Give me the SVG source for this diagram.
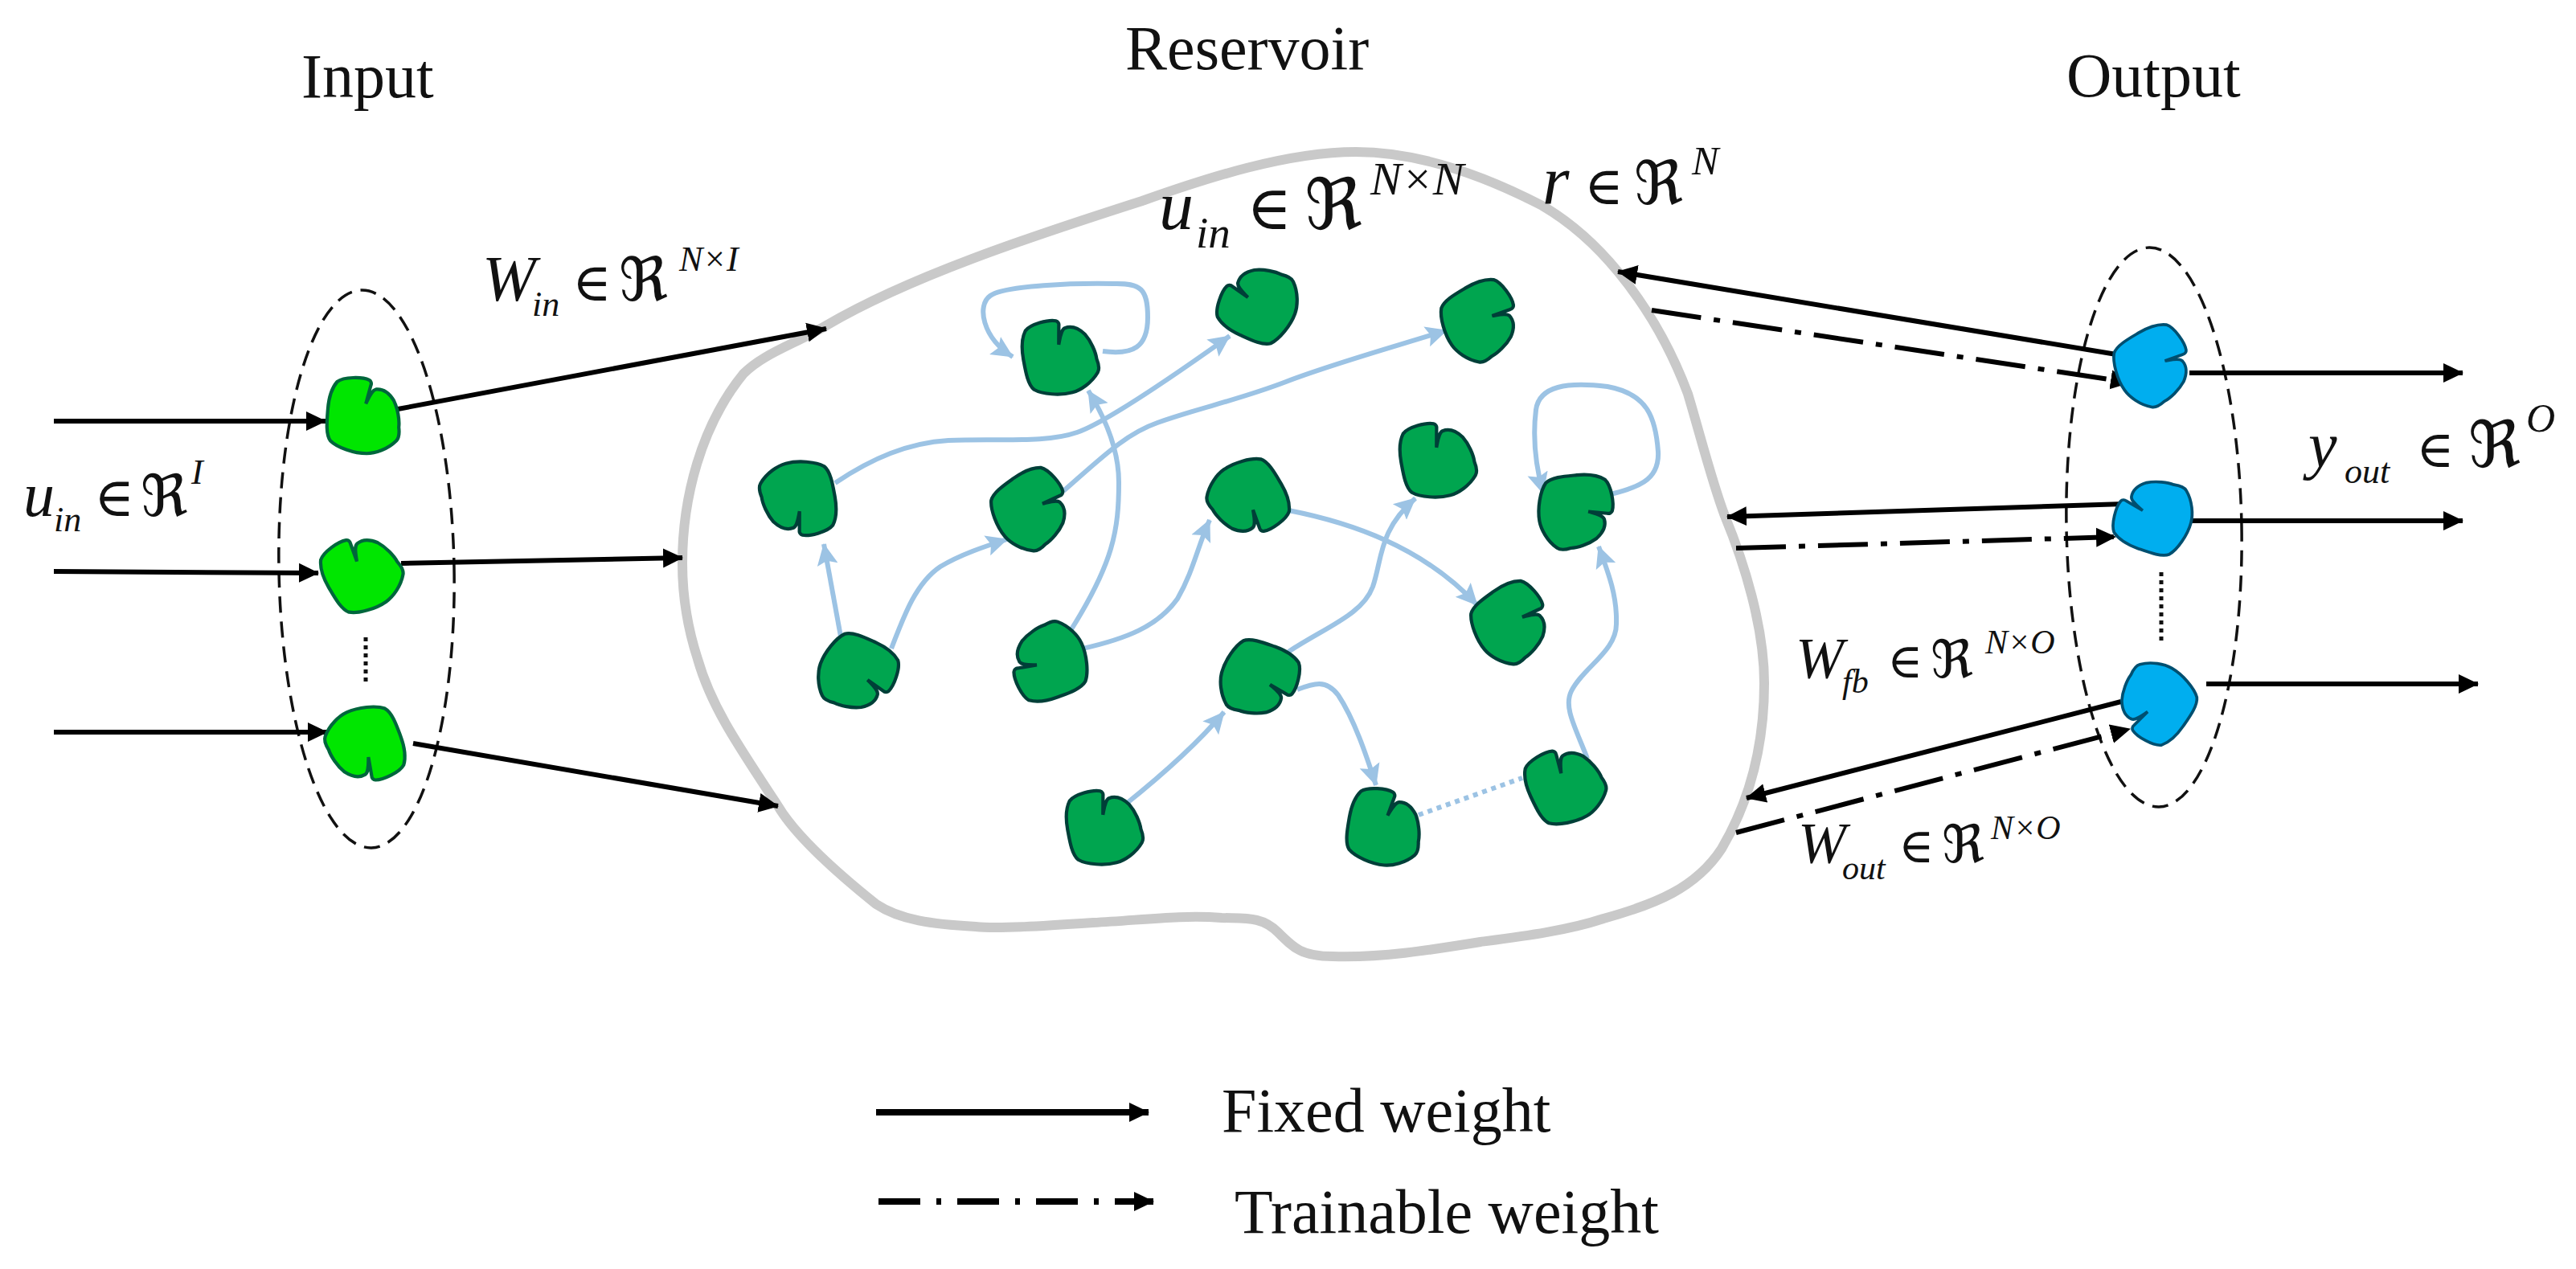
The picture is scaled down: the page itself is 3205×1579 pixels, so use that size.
<svg xmlns="http://www.w3.org/2000/svg" width="3205" height="1579" viewBox="0 0 3205 1579">
<style>
text{font-family:"Liberation Serif","DejaVu Serif",serif;fill:#111}
.t{font-size:78px}
.i{font-style:italic}
.m{font-family:"DejaVu Serif","DejaVu Sans",serif}
.fx{fill:none;stroke:#000;stroke-width:6;marker-end:url(#ah)}
.tr{fill:none;stroke:#000;stroke-width:6;stroke-dasharray:62 16 8 16;marker-end:url(#ah)}
.lg{stroke-width:8;stroke-dasharray:52 20 6 20}
.lf{stroke-width:8}
.bl{fill:none;stroke:#9cc3e4;stroke-width:6;marker-end:url(#ab)}
.ell{fill:none;stroke:#111;stroke-width:3.5;stroke-dasharray:20 11}
.dots{fill:none;stroke:#111;stroke-width:5;stroke-dasharray:5 5}
.nI{fill:#00e600;stroke:#00663c;stroke-width:4}
.nR{fill:#00a54f;stroke:#003f38;stroke-width:4}
.nO{fill:#00aeef;stroke:#004f70;stroke-width:3.5}
</style>
<defs>
<marker id="ah" markerUnits="userSpaceOnUse" markerWidth="26" markerHeight="26" refX="24" refY="13" orient="auto"><path d="M0,1 L25,13 L0,25 Z" fill="#000"/></marker>
<marker id="ab" markerUnits="userSpaceOnUse" markerWidth="28" markerHeight="28" refX="26" refY="14" orient="auto"><path d="M0,1 L27,14 L0,27 L5,14 Z" fill="#9cc3e4"/></marker>
<path id="blob" transform="scale(1.05)" d="M10,-36 L4,-14 C8,-22 11,-30 16,-31 C25,-32 32,-26 37,-18 C42,-8 44,6 43,14 C44,22 43,27 40,30 C30,40 15,45 5,45 C-10,45 -30,38 -38,30 C-44,22 -42,5 -41,-8 C-40,-20 -37,-32 -30,-40 C-22,-46 0,-46 8,-42 C10,-41 11,-38 10,-36 Z"/>
</defs>
<rect width="3205" height="1579" fill="#fff"/>
<g id="reservoir-outline"><path d="M1687,189 C1760,189 1840,215 1919,256 C1960,280 1990,310 2013,338 C2060,395 2085,450 2100,490 C2115,540 2130,600 2146,642 C2170,700 2195,780 2195,850 C2195,930 2175,1000 2142,1056 C2110,1105 2060,1125 1995,1143 C1950,1158 1895,1165 1842,1172 C1780,1182 1720,1192 1658,1190 C1620,1190 1610,1180 1590,1160 C1570,1140 1550,1143 1520,1142 C1470,1138 1420,1145 1360,1148 C1300,1152 1240,1156 1214,1153 C1160,1150 1120,1145 1090,1125 C1040,1085 990,1040 968,1003 C920,930 885,880 868,820 C855,780 849,740 849,701 C849,620 872,530 925,465 C950,440 985,430 1028,405 C1130,345 1280,295 1421,250 C1500,222 1600,189 1687,189 Z" fill="none" stroke="#c9c9c9" stroke-width="12"/></g>
<g id="layer-ellipses">
<ellipse class="ell" cx="456" cy="708" rx="109" ry="347" transform="rotate(-1 456 708)"/>
<ellipse class="ell" cx="2680" cy="656" rx="109" ry="348" transform="rotate(-1 2680 656)"/>
<path class="dots" d="M455,793 V852"/>
<path class="dots" d="M2689,712 V798"/>
</g>
<g id="connectors">
<path class="fx" d="M67,524 H405"/>
<path class="fx" d="M67,711 L396,713"/>
<path class="fx" d="M67,911 H407"/>
<path class="fx" d="M495,509 L1028,409"/>
<path class="fx" d="M499,701 L849,694"/>
<path class="fx" d="M514,925 L968,1003"/>
<path class="fx" d="M2639,442 L2013,338"/>
<path class="tr" d="M2055,386 L2650,476"/>
<path class="fx" d="M2643,627 L2149,643"/>
<path class="tr" d="M2160,682 L2632,668"/>
<path class="fx" d="M2639,873 L2173,993"/>
<path class="tr" d="M2160,1036 L2650,907"/>
<path class="fx" d="M2724,464 H3064"/>
<path class="fx" d="M2724,648 H3064"/>
<path class="fx" d="M2745,851 H3083"/>
<path class="bl" d="M1372,437 C1410,442 1428,432 1428,395 C1428,360 1420,352 1385,353 C1340,352 1250,355 1232,368 C1215,380 1222,420 1260,444"/>
<path class="bl" d="M1039,601 C1085,570 1130,551 1180,548 C1240,545 1300,552 1340,538 C1370,528 1450,475 1530,418"/>
<path class="bl" d="M1323,611 C1370,570 1400,540 1440,526 C1490,508 1540,498 1600,475 C1660,452 1740,430 1800,411"/>
<path class="bl" d="M1333,783 C1385,700 1392,660 1392,600 C1392,560 1375,520 1354,486"/>
<path class="bl" d="M1347,807 C1400,795 1440,780 1465,745 C1485,710 1490,680 1505,647"/>
<path class="bl" d="M1046,792 L1025,677"/>
<path class="bl" d="M1109,807 C1125,765 1140,725 1170,705 C1195,690 1225,680 1253,671"/>
<path class="bl" d="M1603,811 C1650,780 1695,765 1708,730 C1720,695 1715,660 1761,620"/>
<path class="bl" d="M1603,635 C1680,650 1770,680 1838,753"/>
<path class="bl" d="M1996,617 C2035,607 2065,600 2063,562 C2060,520 2050,490 2000,481 C1950,475 1915,480 1911,510 C1906,550 1912,585 1920,614"/>
<path class="bl" d="M1975,944 C1960,905 1945,880 1955,860 C1970,830 2012,810 2011,775 C2012,740 2000,710 1989,680"/>
<path class="bl" d="M1400,1001 C1445,965 1490,925 1523,886"/>
<path class="bl" d="M1614,858 C1635,850 1650,845 1665,865 C1685,895 1700,940 1712,977"/>
<path d="M1765,1014 L1894,968" fill="none" stroke="#9cc3e4" stroke-width="6" stroke-dasharray="6 6"/>
<path class="fx lf" d="M1090,1384 H1429"/>
<path class="tr lg" d="M1093,1495 H1435"/>
</g>
<g id="input-1"><use href="#blob" class="nI" transform="translate(451,517)"/></g>
<g id="input-2"><use href="#blob" class="nI" transform="translate(449,713) rotate(-35)"/></g>
<g id="input-3"><use href="#blob" class="nI" transform="translate(456,927) rotate(155)"/></g>
<g id="output-1"><use href="#blob" class="nO" transform="translate(2679,454) rotate(55)"/></g>
<g id="output-2"><use href="#blob" class="nO" transform="translate(2679,643) rotate(-75)"/></g>
<g id="output-3"><use href="#blob" class="nO" transform="translate(2683,875) rotate(-150)"/></g>
<g id="res-1"><use href="#blob" class="nR" transform="translate(1317,444) rotate(-15)"/></g>
<g id="res-2"><use href="#blob" class="nR" transform="translate(1565,379) rotate(-70)"/></g>
<g id="res-3"><use href="#blob" class="nR" transform="translate(1842,398) rotate(55)"/></g>
<g id="res-4"><use href="#blob" class="nR" transform="translate(995,621) rotate(165)"/></g>
<g id="res-5"><use href="#blob" class="nR" transform="translate(1283,633) rotate(50)"/></g>
<g id="res-6"><use href="#blob" class="nR" transform="translate(1554,620) rotate(145)"/></g>
<g id="res-7"><use href="#blob" class="nR" transform="translate(1787,572) rotate(-15)"/></g>
<g id="res-8"><use href="#blob" class="nR" transform="translate(1961,635) rotate(80)"/></g>
<g id="res-9"><use href="#blob" class="nR" transform="translate(1067,837) rotate(110)"/></g>
<g id="res-10"><use href="#blob" class="nR" transform="translate(1305,825) rotate(-115)"/></g>
<g id="res-11"><use href="#blob" class="nR" transform="translate(1567,844) rotate(105)"/></g>
<g id="res-12"><use href="#blob" class="nR" transform="translate(1880,774) rotate(50)"/></g>
<g id="res-13"><use href="#blob" class="nR" transform="translate(1372,1029) rotate(-15)"/></g>
<g id="res-14"><use href="#blob" class="nR" transform="translate(1721,1029) rotate(5)"/></g>
<g id="res-15"><use href="#blob" class="nR" transform="translate(1946,977) rotate(-30)"/></g>
<g id="labels">
<text class="t" x="375" y="121">Input</text>
<text class="t" x="1400" y="86">Reservoir</text>
<text class="t" x="2571" y="120">Output</text>
<text class="t" x="1520" y="1408">Fixed weight</text>
<text class="t" x="1536" y="1534">Trainable weight</text>
<text><tspan class="i" x="29" y="642" font-size="78">u</tspan><tspan class="i" x="67" y="661" font-size="44">in</tspan><tspan class="m" x="117" y="642" font-size="68">∈</tspan><tspan class="m" x="175" y="642" font-size="72">ℜ</tspan><tspan class="i" x="238" y="602" font-size="44">I</tspan></text>
<text><tspan class="i" x="600" y="374" font-size="80">W</tspan><tspan class="i" x="662" y="393" font-size="44">in</tspan><tspan class="m" x="712" y="374" font-size="66">∈</tspan><tspan class="m" x="770" y="374" font-size="75">ℜ</tspan><tspan class="i" x="845" y="337" font-size="44">N×I</tspan></text>
<text><tspan class="i" x="1442" y="285" font-size="86">u</tspan><tspan class="i" x="1488" y="308" font-size="55">in</tspan><tspan class="m" x="1551" y="285" font-size="76">∈</tspan><tspan class="m" x="1623" y="285" font-size="88">ℜ</tspan><tspan class="i" x="1705" y="242" font-size="58">N×N</tspan></text>
<text><tspan class="i" x="1919" y="254" font-size="86">r</tspan><tspan class="m" x="1971" y="254" font-size="66">∈</tspan><tspan class="m" x="2033" y="254" font-size="75">ℜ</tspan><tspan class="i" x="2105" y="217" font-size="50">N</tspan></text>
<text><tspan class="i" x="2872" y="581" font-size="80">y</tspan><tspan class="i" x="2917" y="601" font-size="44">out</tspan><tspan class="m" x="3006" y="581" font-size="64">∈</tspan><tspan class="m" x="3071" y="581" font-size="80">ℜ</tspan><tspan class="i" x="3143" y="537" font-size="50">O</tspan></text>
<text><tspan class="i" x="2234" y="843" font-size="72">W</tspan><tspan class="i" x="2292" y="862" font-size="42">fb</tspan><tspan class="m" x="2348" y="843" font-size="60">∈</tspan><tspan class="m" x="2402" y="843" font-size="65">ℜ</tspan><tspan class="i" x="2470" y="813" font-size="42">N×O</tspan></text>
<text><tspan class="i" x="2237" y="1073" font-size="72">W</tspan><tspan class="i" x="2292" y="1094" font-size="42">out</tspan><tspan class="m" x="2362" y="1073" font-size="60">∈</tspan><tspan class="m" x="2416" y="1073" font-size="65">ℜ</tspan><tspan class="i" x="2477" y="1044" font-size="42">N×O</tspan></text>
</g>
</svg>
